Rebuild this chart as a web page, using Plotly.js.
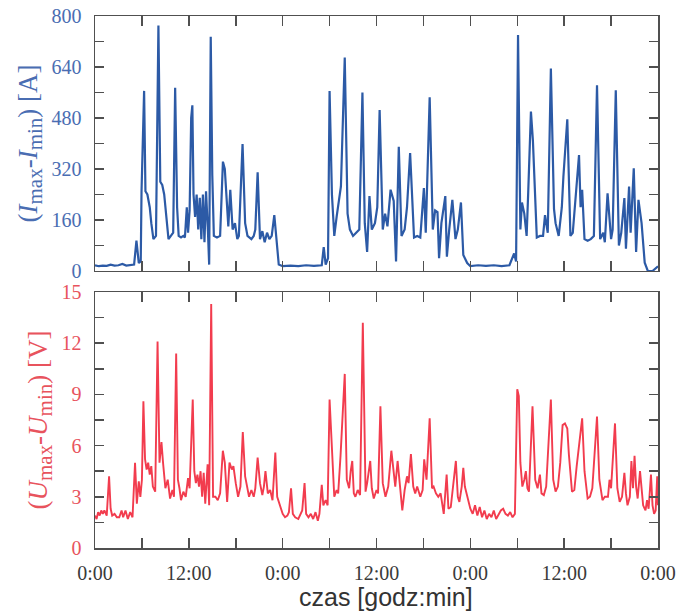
<!DOCTYPE html>
<html>
<head>
<meta charset="utf-8">
<script src="https://cdn.plot.ly/plotly-3.0.1.min.js"></script>
<style>html,body{margin:0;padding:0;background:#ffffff;}</style>
</head>
<body>
<div id="chart" style="width:680px;height:614px;"></div>
<script>
// time in hours from start (3 days)
const tCurrent = [0.0,0.5,1.0,1.5,2.0,2.5,3.0,3.5,4.0,4.5,5.0,5.3,5.6,5.85,5.95,6.28,6.45,6.7,7.0,7.2,7.47,7.8,8.11,8.35,8.6,8.85,9.1,9.4,9.7,10.0,10.25,10.5,10.7,11.0,11.3,11.5,11.74,11.9,12.1,12.3,12.45,12.6,12.8,13.0,13.2,13.4,13.6,13.8,14.0,14.2,14.45,14.6,14.8,15.0,15.2,15.6,16.0,16.36,16.6,16.9,17.05,17.3,17.6,17.9,18.2,18.4,18.87,19.2,19.5,20.0,20.3,20.5,20.8,21.1,21.4,21.7,22.0,22.3,22.6,22.93,23.2,23.5,24.0,25.0,26.0,27.0,28.0,29.0,29.25,29.5,29.8,30.0,30.3,30.6,30.9,31.2,31.45,31.94,32.3,32.6,33.0,33.4,33.8,34.2,34.5,34.8,35.1,35.4,35.8,36.1,36.4,36.8,37.1,37.4,37.8,38.2,38.5,38.85,39.2,39.6,39.9,40.3,40.5,40.8,41.2,41.6,42.06,42.3,42.8,43.2,43.5,43.8,44.0,44.3,44.8,45.0,45.3,45.7,46.1,46.4,46.8,47.1,47.6,48.0,49.0,50.0,51.0,52.0,53.0,53.6,53.85,54.1,54.4,54.6,54.9,55.2,55.4,55.75,56.0,56.3,56.5,56.9,57.3,57.55,57.9,58.3,58.7,58.9,59.3,59.7,59.9,60.4,60.8,61.1,61.4,61.9,62.1,62.3,62.6,63.0,63.4,63.8,64.2,64.6,65.0,65.2,65.55,66.0,66.2,66.6,67.0,67.3,67.7,67.9,68.3,68.5,68.9,69.2,69.5,69.9,70.3,70.7,71.3,71.8,72.0];
const currentRange = [18,15,17,16,20,17,18,22,17,18,20,95,25,30,250,565,250,240,200,150,100,110,770,280,270,240,170,100,110,120,575,200,110,105,110,105,200,120,190,480,520,240,170,240,130,230,100,240,90,250,120,20,735,300,110,105,110,343,320,190,140,255,130,150,100,110,398,150,110,100,110,130,310,100,125,90,120,100,110,175,90,20,15,17,15,18,16,18,75,20,40,565,240,110,170,220,265,670,180,130,110,120,130,560,150,60,235,130,150,200,505,130,180,140,255,220,30,390,110,130,200,370,240,105,110,105,260,120,545,130,190,185,40,150,235,45,130,223,100,130,215,50,25,15,18,16,18,15,18,55,30,740,130,215,180,110,245,500,410,200,105,110,110,175,120,635,195,150,110,200,295,476,110,120,220,364,200,255,100,95,100,110,583,100,120,90,244,100,130,567,80,120,229,70,265,120,322,60,223,150,26,0,0,10,15];

const tVoltage = [0.0,0.2,0.4,0.6,0.8,1.0,1.2,1.5,1.8,2.0,2.2,2.5,2.8,3.1,3.4,3.6,3.9,4.2,4.5,4.8,5.12,5.35,5.6,5.8,6.0,6.19,6.4,6.6,6.8,7.0,7.2,7.4,7.7,8.0,8.25,8.5,8.7,9.0,9.3,9.6,9.9,10.1,10.38,10.6,10.8,11.0,11.3,11.6,11.9,12.1,12.5,12.7,12.9,13.1,13.3,13.5,13.7,13.9,14.1,14.4,14.6,14.86,15.1,15.4,15.7,16.0,16.35,16.6,16.9,17.2,17.5,17.7,18.0,18.3,18.6,18.9,19.2,19.4,19.7,20.0,20.3,20.5,20.8,21.1,21.4,21.6,21.8,22.1,22.4,22.7,23.06,23.3,23.7,24.0,24.3,24.6,24.8,25.07,25.3,25.6,26.0,26.3,26.5,26.8,27.0,27.3,27.6,27.9,28.2,28.5,28.7,29.0,29.2,29.5,29.75,30.0,30.3,30.6,30.9,31.1,31.4,31.94,32.2,32.5,32.7,32.9,33.1,33.3,33.6,33.9,34.25,34.6,34.8,35.2,35.4,35.65,36.0,36.2,36.5,36.8,37.15,37.5,37.9,38.2,38.4,38.7,39.0,39.3,39.6,39.9,40.1,40.4,40.7,40.95,41.2,41.6,41.9,42.1,42.4,42.8,43.1,43.3,43.6,43.9,44.2,44.4,44.6,44.97,45.2,45.5,45.8,46.15,46.4,46.6,46.9,47.1,47.3,47.6,48.0,48.3,48.6,48.9,49.2,49.5,49.8,50.1,50.4,50.7,51.0,51.3,51.6,51.9,52.2,52.5,52.8,53.1,53.4,53.7,54.0,54.2,54.4,54.65,54.9,55.1,55.3,55.5,55.95,56.3,56.6,56.9,57.1,57.4,57.7,58.3,58.6,58.9,59.2,59.5,59.8,60.1,60.4,60.6,61.0,61.3,61.6,62.3,62.6,63.0,63.3,63.6,64.2,64.5,64.9,65.2,65.6,65.8,66.0,66.5,66.8,67.1,67.4,67.7,67.9,68.1,68.4,68.6,68.8,69.0,69.2,69.4,69.7,69.9,70.1,70.4,70.6,70.8,71.1,71.3,71.5,71.7,71.9,72.0];
const voltageRange = [1.9,1.7,2.1,1.9,2.2,2.0,2.2,1.9,4.2,2.3,1.9,2.0,1.8,1.8,2.2,1.8,2.2,1.7,2.1,1.8,5.0,2.6,3.9,3.0,4.0,8.6,5.2,4.6,5.0,4.3,4.8,3.6,3.3,12.1,5.0,6.2,5.0,3.5,4.0,2.9,3.4,3.0,11.4,4.0,3.5,2.8,3.3,3.0,4.1,3.5,8.7,4.5,3.8,4.3,3.6,4.5,3.0,4.4,2.6,4.9,2.5,14.3,3.0,3.0,2.8,3.2,5.7,5.0,2.7,5.0,4.6,4.8,3.8,3.0,3.6,6.8,4.2,3.7,3.0,3.4,3.0,3.5,5.3,3.8,3.1,3.6,4.5,3.2,3.4,2.8,5.6,3.0,2.4,2.0,1.8,1.9,2.1,3.5,2.0,1.8,1.7,2.0,2.2,3.8,2.0,1.8,2.0,1.7,2.1,1.6,2.0,3.7,2.5,2.8,2.5,8.7,5.4,3.0,3.4,3.2,5.4,10.2,4.0,3.5,4.5,5.1,3.2,3.0,3.4,3.1,13.2,3.3,3.8,5.1,3.5,2.9,3.4,3.2,8.3,3.8,3.0,3.6,5.7,4.5,3.6,5.1,3.5,2.2,3.4,4.2,3.8,5.5,3.6,3.2,3.6,3.0,3.4,5.2,4.0,7.6,3.5,3.6,3.2,3.0,3.2,2.5,2.0,4.3,2.3,2.4,3.5,5.1,3.0,2.7,3.6,4.7,3.6,3.1,2.3,2.0,2.5,1.9,2.4,1.8,2.2,1.7,2.0,1.8,2.2,1.7,2.0,2.2,2.3,2.0,1.9,2.1,1.8,2.0,9.3,8.9,5.0,3.6,4.0,4.5,3.5,3.3,8.3,4.0,3.5,4.3,3.2,3.1,3.6,8.7,4.0,3.3,3.6,5.0,7.2,7.3,7.0,5.5,3.3,3.4,4.8,7.6,4.5,2.9,3.0,3.5,7.7,4.0,2.8,3.0,3.0,4.0,3.5,7.3,3.5,2.7,3.0,4.4,3.2,2.5,3.0,5.1,3.5,5.4,3.6,2.9,4.5,3.2,2.5,2.2,2.8,2.3,4.3,2.5,2.0,2.2,4.2,2.5];

const xTickHours = [0,12,24,36,48,60,72];
const xTickLabels = ['0:00','12:00','0:00','12:00','0:00','12:00','0:00'];
const currentTicks = [0,160,320,480,640,800];
const voltageTicks = [0,3,6,9,12,15];

const blueLine = '#2c5aa6', blueText = '#4a6db2';
const redLine = '#f23c4e', redText = '#e8535d';
const axisCol = '#505050';
const serif = "'Liberation Serif', 'Times New Roman', serif";
const sans = "'Liberation Sans', Arial, sans-serif";

const traces = [
  {x: tCurrent, y: currentRange, type: 'scatter', mode: 'lines', xaxis: 'x', yaxis: 'y',
   line: {color: blueLine, width: 2.2}, hoverinfo: 'skip'},
  {x: tVoltage, y: voltageRange, type: 'scatter', mode: 'lines', xaxis: 'x2', yaxis: 'y2',
   line: {color: redLine, width: 1.9}, hoverinfo: 'skip'}
];

const xCommon = {
  range: [0, 72], tickmode: 'array', tickvals: xTickHours, ticktext: xTickLabels,
  ticks: 'inside', ticklen: 10, tickwidth: 1.5, tickcolor: axisCol,
  minor: {dtick: 6, tick0: 0, ticks: 'inside', ticklen: 10, tickwidth: 1.5, tickcolor: axisCol, showgrid: false},
  showline: true, linecolor: axisCol, linewidth: 1.5, mirror: 'ticks',
  showgrid: false, zeroline: false, fixedrange: true
};

const layout = {
  width: 680, height: 614,
  margin: {l: 95, r: 22, t: 16, b: 66},
  paper_bgcolor: '#ffffff', plot_bgcolor: '#ffffff',
  showlegend: false,
  xaxis: Object.assign({}, xCommon, {anchor: 'y', showticklabels: false, domain: [0, 1]}),
  xaxis2: Object.assign({}, xCommon, {anchor: 'y2', domain: [0, 1], showticklabels: true,
    tickfont: {family: serif, size: 20, color: '#3a3a3a'}, ticklabelstandoff: 6}),
  yaxis: {
    domain: [0.5207, 1], anchor: 'x', range: [0, 800],
    tickmode: 'array', tickvals: currentTicks,
    ticks: 'inside', ticklen: 9, tickwidth: 1.5, tickcolor: axisCol,
    minor: {dtick: 80, tick0: 0, ticks: 'inside', ticklen: 9, tickwidth: 1.5, tickcolor: axisCol, showgrid: false},
    showline: true, linecolor: axisCol, linewidth: 1.5, mirror: 'ticks',
    showgrid: false, zeroline: false, fixedrange: true,
    tickfont: {family: serif, size: 20, color: blueText}, ticklabelstandoff: 8,
    title: {text: '(<i>I</i><sub><span style="font-size:21px">max</span></sub>-<i>I</i><sub><span style="font-size:21px">min</span></sub>) [A]',
      font: {family: serif, size: 27, color: blueText}, standoff: 6}
  },
  yaxis2: {
    domain: [0, 0.4812], anchor: 'x2', range: [0, 15],
    tickmode: 'array', tickvals: voltageTicks,
    ticks: 'inside', ticklen: 9, tickwidth: 1.5, tickcolor: axisCol,
    minor: {dtick: 1.5, tick0: 0, ticks: 'inside', ticklen: 9, tickwidth: 1.5, tickcolor: axisCol, showgrid: false},
    showline: true, linecolor: axisCol, linewidth: 1.5, mirror: 'ticks',
    showgrid: false, zeroline: false, fixedrange: true,
    tickfont: {family: serif, size: 20, color: redText}, ticklabelstandoff: 8,
    title: {text: '(<i>U</i><sub><span style="font-size:21px">max</span></sub>-<i>U</i><sub><span style="font-size:21px">min</span></sub>) [V]',
      font: {family: serif, size: 27, color: redText}, standoff: 6}
  },
  annotations: [{
    text: 'czas [godz:min]', xref: 'paper', yref: 'paper', x: 0.517, y: -0.093,
    xanchor: 'center', yanchor: 'middle', showarrow: false,
    font: {family: sans, size: 25, color: '#333333'}
  }]
};

Plotly.newPlot('chart', traces, layout, {displayModeBar: false, staticPlot: true});
</script>
</body>
</html>
